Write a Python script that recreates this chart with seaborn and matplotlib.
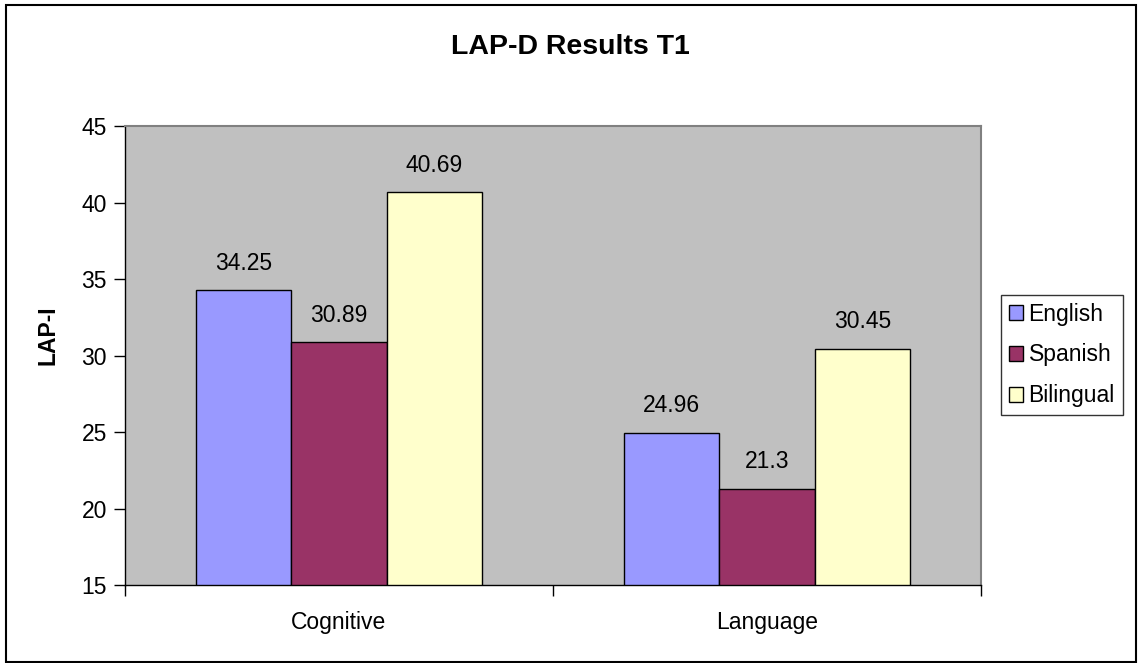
import matplotlib
matplotlib.use("Agg")
import matplotlib.pyplot as plt
import seaborn as sns
import pandas as pd
from matplotlib.patches import Rectangle

categories = ["Cognitive", "Language"]
groups = ["English", "Spanish", "Bilingual"]
english = [34.25, 24.96]
spanish = [30.89, 21.3]
bilingual = [40.69, 30.45]
label_text = {"English": ["34.25", "24.96"], "Spanish": ["30.89", "21.3"], "Bilingual": ["40.69", "30.45"]}
yticks = [15, 20, 25, 30, 35, 40, 45]
colors = ["#9999FF", "#993366", "#FFFFCC"]

rows = []
for g, vals in zip(groups, [english, spanish, bilingual]):
    for c, v in zip(categories, vals):
        rows.append({"Area": c, "Group": g, "Score": v})
df = pd.DataFrame(rows)

sns.set_style("white")
plt.rcParams["font.family"] = ["Liberation Sans", "DejaVu Sans"]
plt.rcParams["text.color"] = "black"
plt.rcParams["axes.labelcolor"] = "black"
plt.rcParams["xtick.color"] = "black"
plt.rcParams["ytick.color"] = "black"

FS = 16.5

fig = plt.figure(figsize=(11.38, 6.63), dpi=100)
ax = fig.add_axes([125/1138, 1-585/663, (981-125)/1138, (585-126)/663])
ax.set_facecolor("#C0C0C0")

sns.barplot(data=df, x="Area", y="Score", hue="Group", order=categories,
            hue_order=groups, palette=colors, saturation=1, width=0.67,
            edgecolor="black", linewidth=1.0, ax=ax, legend=True)

for cont, g in zip(ax.containers, groups):
    ax.bar_label(cont, labels=label_text[g], padding=11, fontsize=FS, color="black")

ax.set_ylim(15, 45)
ax.set_yticks(yticks)
ax.set_xlim(-0.5, 1.5)
ax.set_xlabel("")
ax.set_ylabel("")
ax.tick_params(axis="y", which="major", length=8, width=1, color="black",
               direction="out", left=True, labelsize=FS, pad=5, labelcolor="black")
ax.tick_params(axis="x", which="major", length=0, labelsize=FS, pad=19, labelcolor="black")
ax.set_xticks([-0.5, 0.5, 1.5], minor=True)
ax.tick_params(axis="x", which="minor", length=8, width=1, color="black",
               direction="out", bottom=True)

for s in ["left", "bottom"]:
    ax.spines[s].set_color("black")
    ax.spines[s].set_linewidth(1.0)
for s in ["top", "right"]:
    ax.spines[s].set_color("#808080")
    ax.spines[s].set_linewidth(1.5)

leg = ax.legend(loc="center left", bbox_to_anchor=(1001/1138, 1-355/663),
                bbox_transform=fig.transFigure, frameon=True, fontsize=FS,
                handlelength=0.6, handleheight=0.6, handletextpad=0.25,
                labelspacing=0.78, borderpad=0.35, fancybox=False,
                borderaxespad=0)
leg.get_frame().set_edgecolor("black")
leg.get_frame().set_linewidth(1.0)
for t in leg.get_texts():
    t.set_color("black")
for h in leg.legend_handles:
    h.set_edgecolor("black")
    h.set_linewidth(1.0)

fig.text(570/1138, 1-47/663, "LAP-D Results T1", ha="center", va="center",
         fontsize=20.5, fontweight="bold", color="black")
fig.text(48/1138, 1-335/663, "LAP-I", ha="center", va="center", rotation=90,
         fontsize=FS, fontweight="bold", color="black")

fig.patches.append(Rectangle((6/1138, 1-662/663), (1136-6)/1138, (662-5)/663,
                             transform=fig.transFigure, fill=False,
                             edgecolor="black", linewidth=1.5))

fig.savefig("out.png", dpi=100)
